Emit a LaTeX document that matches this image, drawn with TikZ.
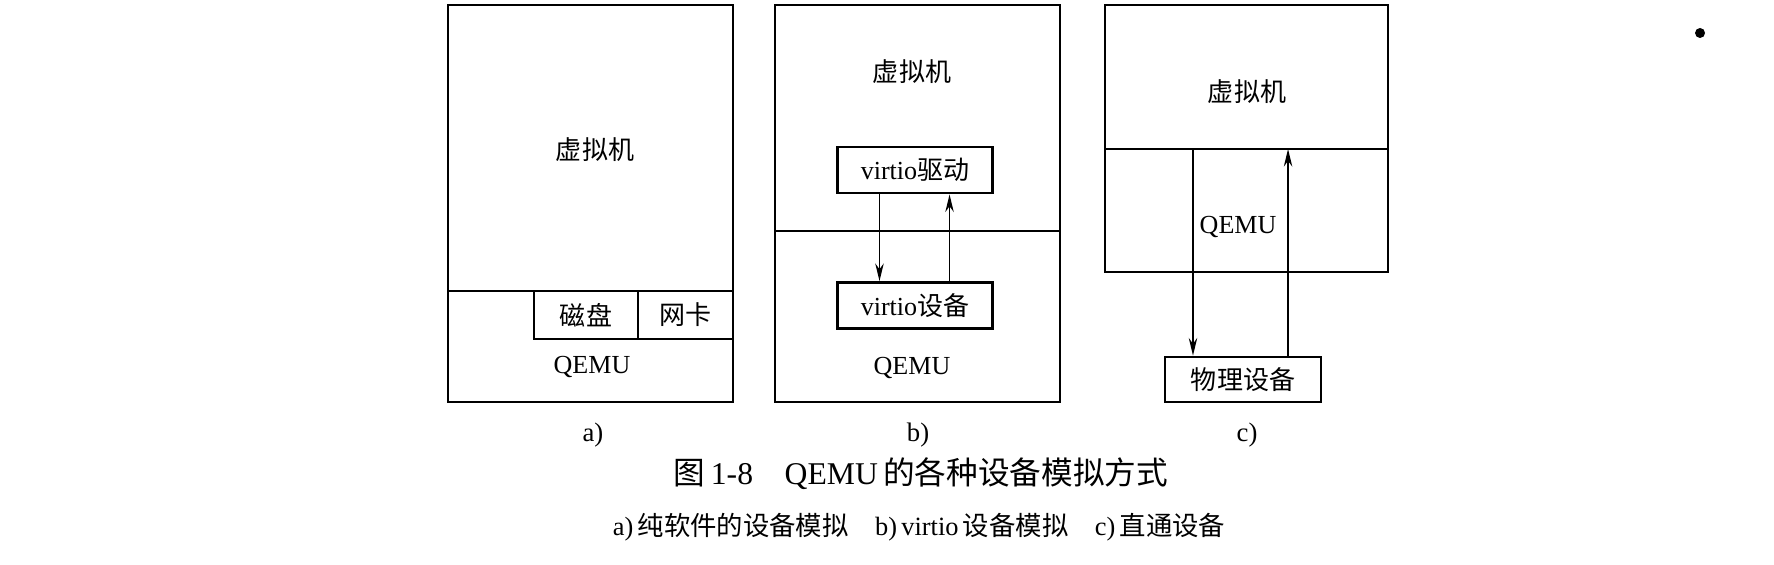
\documentclass[tikz,border=0pt]{standalone}
\usepackage{fontspec}
\setmainfont{Liberation Serif}
\newfontfamily\cjk{Noto Sans CJK SC}
\usetikzlibrary{arrows.meta}
\tikzset{
	frame/.style={line width=0.8pt},
	devbox/.style={draw, line width=0.8pt, inner sep=0pt, minimum height=0.46cm, font=\fontsize{7.4pt}{9pt}\selectfont},
	lbl/.style={inner sep=0pt, font=\fontsize{7.4pt}{9pt}\selectfont},
	arr/.style={line width=0.45pt, -{Stealth[length=5pt, width=2.4pt]}},
}

\begin{document}
\begin{tikzpicture}[x=0.01cm, y=-0.01cm]
			%%%%% START %%%%%
			\useasboundingbox (0,0) rectangle (1774,564);
			
			% a) software emulation
			\draw[frame] (448, 5) rectangle (733, 402);
			\draw[frame] (448, 291) -- (733, 291);
			\node[lbl] (vma) at (595, 150) {\cjk 虚拟机};
			\node[devbox, minimum width=1.04cm, minimum height=0.48cm] (disk) at (586, 315) {\cjk 磁盘};
			\node[devbox, minimum width=0.95cm, minimum height=0.48cm] (nic) at (685.5, 315) {\cjk 网卡};
			\node[lbl] (qemua) at (592, 367) {QEMU};
			
			% b) virtio
			\draw[frame] (775, 5) rectangle (1060, 402);
			\draw[frame] (775, 231) -- (1060, 231);
			\node[lbl] (vmb) at (912, 72) {\cjk 虚拟机};
			\node[devbox, minimum width=1.55cm] (drv) at (915, 170) {virtio{\cjk 驱动}};
			\node[devbox, minimum width=1.55cm] (dev) at (915, 305.5) {virtio{\cjk 设备}};
			\node[lbl] (qemub) at (912, 368) {QEMU};
			\draw[arr] ([xshift=-0.355cm]drv.south) -- ([xshift=-0.355cm]dev.north);
			\draw[arr] ([xshift=0.345cm]dev.north) -- ([xshift=0.345cm]drv.south);
			
			% c) passthrough
			\draw[frame] (1105, 5) rectangle (1388, 272);
			\draw[frame] (1105, 149) -- (1388, 149);
			\coordinate (cdiv) at (1243, 149);
			\node[lbl] (vmc) at (1247, 92) {\cjk 虚拟机};
			\node[lbl] (qemuc) at (1238, 227) {QEMU};
			\node[devbox, minimum width=1.56cm, minimum height=0.45cm] (phys) at (1243, 379.5) {\cjk 物理设备};
			\draw[arr] ([xshift=-0.5cm]cdiv) -- ([xshift=-0.5cm]phys.north);
			\draw[arr] ([xshift=0.45cm]phys.north) -- ([xshift=0.45cm]cdiv);
			
			% sub labels
			\node[lbl, font=\fontsize{7.6pt}{9pt}\selectfont] (la) at (593, 435) {a)};
			\node[lbl, font=\fontsize{7.6pt}{9pt}\selectfont] (lb) at (918, 435) {b)};
			\node[lbl, font=\fontsize{7.6pt}{9pt}\selectfont] (lc) at (1247, 435) {c)};
			
			% caption
			\node[lbl, font=\fontsize{9pt}{10pt}\selectfont] (cap) at (921, 474) {{\cjk 图}\,1-8\quad QEMU\,{\cjk 的各种设备模拟方式}};
			\node[lbl, font=\fontsize{7.5pt}{9pt}\selectfont] (subcap) at (919, 527) {a)\,{\cjk 纯软件的设备模拟}\quad b)\,virtio\,{\cjk 设备模拟}\quad c)\,{\cjk 直通设备}};
			
			\fill (1700, 33) circle (5);
			%%%%% END %%%%%
\end{tikzpicture}
\end{document}
